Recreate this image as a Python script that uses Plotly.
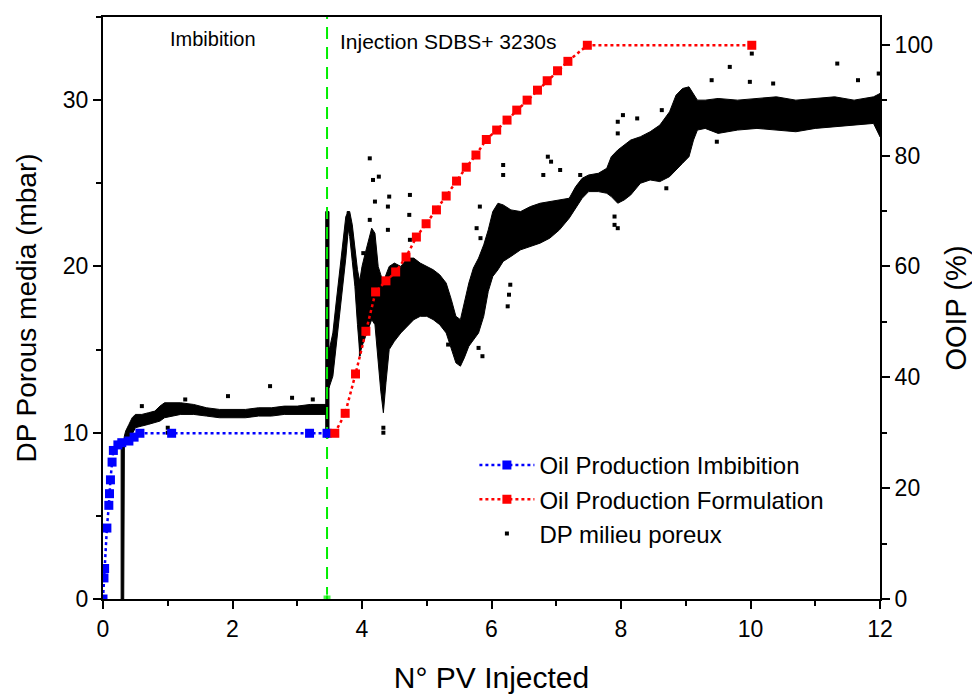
import plotly.graph_objects as go

# ---------------- data ----------------
# Oil production during imbibition (OOIP %, right axis)
imb_x = [0.0, 0.015, 0.025, 0.06, 0.09, 0.10, 0.115, 0.14, 0.16, 0.23, 0.29, 0.40, 0.48, 0.57, 1.06, 3.19, 3.46]
imb_y = [0.0, 3.8, 5.5, 12.8, 16.9, 19.0, 21.5, 24.7, 26.8, 27.8, 28.2, 28.5, 29.2, 29.9, 29.9, 29.9, 29.9]

# Oil production during formulation injection (OOIP %, right axis)
form_x = [3.58, 3.74, 3.90, 4.06, 4.21, 4.37, 4.52, 4.68, 4.84, 4.99, 5.15, 5.30, 5.46, 5.61, 5.76,
          5.92, 6.08, 6.24, 6.39, 6.55, 6.71, 6.86, 7.02, 7.18, 7.48, 10.02]
form_y = [29.9, 33.5, 40.6, 48.3, 55.4, 57.4, 59.0, 61.7, 65.3, 67.7, 70.2, 72.7, 75.4, 77.9, 80.1,
          82.9, 84.6, 86.4, 88.2, 90.0, 91.8, 93.5, 95.3, 97.0, 99.9, 99.9]

# Start of surfactant injection (PV)
injection_start = 3.46

# DP porous media (mbar) - dense noisy record, read as envelopes (low/high) per segment
dp_imb_x = [0.28, 0.32, 0.33, 0.35, 0.40, 0.45, 0.50, 0.60, 0.70, 0.80, 0.88, 0.95, 1.05, 1.20, 1.40,
            1.60, 1.80, 2.00, 2.20, 2.40, 2.60, 2.80, 3.00, 3.20, 3.44]
dp_imb_low = [0.0, 0.0, 9.2, 9.3, 9.5, 9.9, 10.3, 10.4, 10.5, 10.6, 10.7, 10.9, 11.0, 11.1, 11.1,
              11.0, 10.9, 10.9, 10.9, 11.0, 11.0, 11.1, 11.1, 11.1, 11.1]
dp_imb_high = [9.4, 9.5, 9.8, 10.1, 10.5, 10.9, 11.1, 11.1, 11.2, 11.3, 11.6, 11.8, 11.8, 11.8, 11.7,
               11.5, 11.4, 11.4, 11.4, 11.5, 11.5, 11.6, 11.6, 11.7, 11.7]

dp_col_x = [3.44, 3.49]
dp_col_low = [9.7, 9.7]
dp_col_high = [23.3, 23.3]

dp_rise_x = [3.49, 3.55, 3.60, 3.65, 3.70, 3.75, 3.79]
dp_rise_low = [12.7, 13.4, 15.2, 17.0, 18.7, 20.5, 22.3]
dp_rise_high = [14.9, 16.0, 17.8, 19.6, 21.3, 23.0, 23.3]

dp_fall_x = [3.77, 3.81, 3.85, 3.89, 3.93, 3.97]
dp_fall_low = [22.6, 21.8, 20.3, 18.8, 16.5, 14.6]
dp_fall_high = [23.3, 23.3, 22.5, 21.0, 19.8, 19.0]

dp_inj_x = [3.96, 4.00, 4.05, 4.10, 4.15, 4.20, 4.25, 4.29, 4.33, 4.37, 4.42, 4.50, 4.60, 4.70, 4.80,
            4.90, 5.00, 5.10, 5.20, 5.30, 5.38, 5.45, 5.52, 5.58, 5.65, 5.72, 5.80, 5.88, 5.95, 6.02,
            6.10, 6.18, 6.30, 6.45, 6.60, 6.75, 6.90, 7.05, 7.20, 7.30, 7.40, 7.50, 7.65, 7.78, 7.85,
            7.95, 8.05, 8.15, 8.30, 8.45, 8.60, 8.75, 8.85, 8.95, 9.05, 9.12, 9.18, 9.30, 9.50, 9.80,
            10.1, 10.4, 10.7, 11.0, 11.3, 11.6, 11.9, 12.0]
dp_inj_low = [14.6, 15.2, 15.8, 16.3, 16.8, 16.5, 14.5, 12.5, 11.2, 13.0, 15.0, 15.5, 16.0, 16.4, 16.8,
              17.0, 17.0, 16.8, 16.5, 16.0, 15.0, 14.2, 14.0, 14.5, 15.2, 15.6, 16.0, 17.0, 18.5, 19.4,
              19.8, 20.3, 20.6, 21.0, 21.2, 21.4, 21.7, 22.2, 22.9, 23.5, 24.1, 24.5, 24.5, 24.4, 24.2,
              23.8, 24.0, 24.3, 25.0, 25.2, 25.1, 25.4, 25.8, 26.2, 26.6, 27.6, 28.2, 28.3, 28.0, 28.2,
              28.3, 28.2, 28.1, 28.3, 28.4, 28.5, 28.6, 27.8]
dp_inj_high = [19.0, 20.0, 20.8, 21.5, 22.3, 22.0, 20.0, 19.5, 19.0, 19.5, 20.0, 20.2, 20.0, 20.5, 20.5,
               20.2, 20.0, 19.8, 19.5, 19.0, 18.0, 17.0, 16.8, 17.8, 19.0, 19.9, 20.5, 21.3, 22.2, 23.3,
               23.8, 23.7, 23.4, 23.3, 23.6, 23.8, 23.9, 24.0, 24.1, 24.8, 25.3, 25.5, 25.6, 25.9, 26.6,
               27.0, 27.3, 27.6, 27.8, 28.1, 28.5, 29.3, 30.3, 30.7, 30.8, 30.4, 30.0, 30.0, 30.1, 30.0,
               30.1, 30.2, 30.0, 30.1, 30.2, 30.0, 30.2, 30.4]

# isolated DP points outside the dense band
dp_pts_x = [0.60, 1.00, 1.00, 1.27, 1.93, 2.58, 2.92, 3.24, 4.02, 4.12, 4.12, 4.17, 4.20, 4.26, 4.33,
            4.33, 4.40, 4.40, 4.42, 4.73, 4.74, 4.74, 5.33, 5.77, 5.80, 5.82, 5.83, 5.86, 6.18, 6.18,
            6.25, 6.27, 6.29, 6.80, 6.87, 6.92, 7.06, 7.37, 7.90, 7.90, 7.95, 7.95, 7.95, 8.03, 8.25,
            8.63, 8.70, 9.40, 9.48, 9.68, 9.99, 10.02, 10.35, 11.34, 11.66, 11.98]
dp_pts_y = [11.6, 10.3, 10.0, 12.0, 12.2, 12.8, 12.1, 12.0, 20.8, 26.5, 22.8, 25.2, 23.9, 25.4, 10.3,
            10.0, 23.6, 22.2, 24.2, 23.1, 24.3, 21.6, 15.3, 22.3, 15.1, 23.6, 21.7, 14.6, 26.1, 25.5,
            17.6, 18.3, 18.9, 25.5, 26.6, 26.3, 25.8, 25.5, 22.5, 23.0, 22.3, 28.0, 28.7, 29.1, 28.9,
            29.4, 24.7, 31.2, 27.5, 32.0, 31.1, 32.8, 31.0, 32.2, 31.2, 31.6]

# ---------------- figure ----------------
FONT = "Arial, Liberation Sans, sans-serif"

def band_polygons(segments):
    xs, ys = [], []
    for sx, lo, hi in segments:
        xs += list(sx) + list(sx)[::-1] + [sx[0], None]
        ys += list(hi) + list(lo)[::-1] + [hi[0], None]
    return xs, ys

poly_x, poly_y = band_polygons([
    (dp_imb_x, dp_imb_low, dp_imb_high),
    (dp_col_x, dp_col_low, dp_col_high),
    (dp_rise_x, dp_rise_low, dp_rise_high),
    (dp_fall_x, dp_fall_low, dp_fall_high),
    (dp_inj_x, dp_inj_low, dp_inj_high),
])

fig = go.Figure()

fig.add_trace(go.Scatter(
    x=poly_x, y=poly_y, mode="lines", fill="toself", fillcolor="black",
    line=dict(color="black", width=1), showlegend=False, hoverinfo="skip", yaxis="y"))

fig.add_trace(go.Scatter(
    x=dp_pts_x, y=dp_pts_y, mode="markers", name="DP milieu poreux",
    marker=dict(symbol="square", size=4, color="black"), legendrank=3, yaxis="y"))

fig.add_trace(go.Scatter(
    x=[injection_start, injection_start], y=[0, 35], mode="lines+markers",
    line=dict(color="#00ee00", width=2, dash="12px,8px"),
    marker=dict(symbol="square", size=[8, 0], color="#00ee00"),
    showlegend=False, yaxis="y"))

fig.add_trace(go.Scatter(
    x=imb_x, y=imb_y, mode="lines+markers", name="Oil Production Imbibition",
    line=dict(color="#0000ff", width=2.5, dash="dot"),
    marker=dict(symbol="square", size=9, color="#0000ff"), legendrank=1, yaxis="y2"))

fig.add_trace(go.Scatter(
    x=form_x, y=form_y, mode="lines+markers", name="Oil Production Formulation",
    line=dict(color="#ff0000", width=2.5, dash="dot"),
    marker=dict(symbol="square", size=9, color="#ff0000"), legendrank=2, yaxis="y2"))

axis_common = dict(
    showline=True, linewidth=2, linecolor="black", showgrid=False, zeroline=False,
    ticks="outside", ticklen=8, tickwidth=2, tickcolor="black",
    tickfont=dict(family=FONT, size=23, color="black"),
)

fig.update_layout(
    width=980, height=695,
    margin=dict(l=95, r=108, t=7, b=104),
    paper_bgcolor="white", plot_bgcolor="white",
    font=dict(family=FONT, color="black"),
    xaxis=dict(range=[0, 12], dtick=2, tick0=0, mirror=True,
               minor=dict(dtick=1, ticks="outside", ticklen=5, tickwidth=2, tickcolor="black"),
               title=dict(text="N° PV Injected", font=dict(family=FONT, size=30), standoff=26),
               **axis_common),
    yaxis=dict(range=[0, 35], dtick=10, tick0=0,
               minor=dict(dtick=5, ticks="outside", ticklen=5, tickwidth=2, tickcolor="black"),
               title=dict(text="DP Porous media (mbar)", font=dict(family=FONT, size=28), standoff=18),
               **axis_common),
    yaxis2=dict(range=[0, 105], dtick=20, tick0=0, overlaying="y", side="right",
                minor=dict(dtick=10, ticks="outside", ticklen=5, tickwidth=2, tickcolor="black"),
                title=dict(text="OOIP (%)", font=dict(family=FONT, size=29), standoff=14),
                **axis_common),
    legend=dict(x=0.478, y=0.268, xanchor="left", yanchor="top", itemwidth=55,
                bgcolor="rgba(0,0,0,0)", font=dict(family=FONT, size=24, color="black"),
                tracegroupgap=0),
    annotations=[
        dict(x=1.7, y=33.7, xref="x", yref="y", text="Imbibition", showarrow=False,
             font=dict(family=FONT, size=20, color="black"), xanchor="center", yanchor="middle"),
        dict(x=3.63, y=33.5, xref="x", yref="y", text="Injection SDBS+ 3230s", showarrow=False,
             font=dict(family=FONT, size=21, color="black"), xanchor="left", yanchor="middle"),
    ],
)

fig.write_html("out.html")
